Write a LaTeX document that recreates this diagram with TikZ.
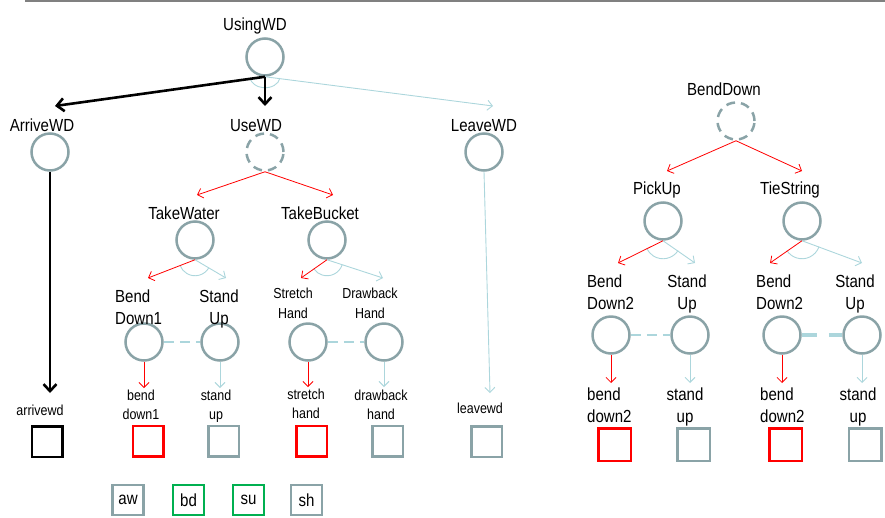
\documentclass[tikz,border=0pt]{standalone}
\usepackage{fontspec}
\setmainfont{Liberation Sans}[FakeStretch=0.86]
\usetikzlibrary{arrows.meta}
\definecolor{ngray}{RGB}{138,163,167}
\definecolor{lblue}{RGB}{172,214,220}
\definecolor{tgray}{RGB}{128,128,128}
\definecolor{lgreen}{RGB}{0,176,80}
\newcommand{\linesL}[2]{\begin{tabular}[t]{@{}l@{}}#1\\#2\end{tabular}}
\newcommand{\linesC}[2]{\begin{tabular}[t]{@{}c@{}}#1\\#2\end{tabular}}
\begin{document}
\begin{tikzpicture}[x=1pt,y=-1pt,
  st/.style={circle, draw=ngray, line width=2.5pt, minimum size=37pt, inner sep=0pt},
  dst/.style={st, dash pattern=on 9pt off 6pt},
  obs/.style={rectangle, draw=ngray, line width=2.5pt, minimum size=30.5pt, inner sep=0pt},
  robs/.style={obs, draw=red},
  big/.style={font=\fontsize{17.5}{22}\selectfont, inner sep=0pt, anchor=base},
  mid/.style={font=\fontsize{14.5}{19.5}\selectfont, inner sep=0pt, anchor=base},
  redarr/.style={draw=red, line width=0.8pt, -{Straight Barb[length=5pt,width=10pt]}},
  bluearr/.style={draw=lblue, line width=0.9pt, -{Straight Barb[length=5pt,width=10pt]}},
  blackarr/.style={draw=black, line width=2.6pt, -{Straight Barb[length=7pt,width=13pt]}},
  andarc/.style={draw=lblue, line width=0.9pt},
  thinlink/.style={draw=lblue, line width=1.6pt, dash pattern=on 10pt off 6pt},
  thicklink/.style={draw=lblue, line width=4pt, dash pattern=on 15pt off 12pt},
  leg/.style={rectangle, draw=ngray, line width=2.5pt, minimum width=31pt, minimum height=30pt, inner sep=0pt, font=\fontsize{17.5}{22}\selectfont}
]
\useasboundingbox (0,0) rectangle (885,517);
\draw[tgray, line width=1.6pt] (25,1) -- (885,1);

% ---------- left tree ----------
\node[st] (usingwd) at (265,57) {};
\node[big] (usingwdL) at (255,30) {UsingWD};
\node[st] (arrivewd) at (50,152) {};
\node[big] (arrivewdL) at (42,131) {ArriveWD};
\node[dst] (usewd) at (265,152) {};
\node[big] (usewdL) at (256,131) {UseWD};
\node[st] (leavewd) at (484,152) {};
\node[big] (leavewdL) at (484,131) {LeaveWD};

\node[st] (takewater) at (195,240) {};
\node[big] (takewaterL) at (184,219) {TakeWater};
\node[st] (takebucket) at (327,240) {};
\node[big] (takebucketL) at (320,219) {TakeBucket};

\node[st] (bd1) at (144,342) {};
\node[big, anchor=base west] (bd1L) at (115,302) {\linesL{Bend}{Down1}};
\node[st] (su1) at (220,342) {};
\node[big] (su1L) at (219,302) {\linesC{Stand}{Up}};
\node[st] (sh1) at (308,342) {};
\node[mid] (sh1L) at (293,298.5) {\linesC{Stretch}{Hand}};
\node[st] (dh1) at (384,342) {};
\node[mid] (dh1L) at (370,298.5) {\linesC{Drawback}{Hand}};

\node[mid] (bd1o) at (141,400) {\linesC{bend}{down1}};
\node[mid] (su1o) at (216,400) {\linesC{stand}{up}};
\node[mid] (sh1o) at (306,399) {\linesC{stretch}{hand}};
\node[mid] (dh1o) at (381,400) {\linesC{drawback}{hand}};
\node[mid] (awo) at (40,415) {arrivewd};
\node[mid] (lwo) at (480,413) {leavewd};

\node[obs, draw=black] (bx_aw) at (47,441.5) {};
\node[robs] (bx_bd1) at (148,441) {};
\node[obs] (bx_su1) at (223.5,441) {};
\node[robs] (bx_sh1) at (311.5,441) {};
\node[obs] (bx_dh1) at (387.5,441) {};
\node[obs] (bx_lw) at (486.5,441.5) {};

\node[leg] (lg_aw) at (128,500) {aw};
\node[leg, draw=lgreen] (lg_bd) at (188.5,500) {bd};
\node[leg, draw=lgreen] (lg_su) at (248.5,500) {su};
\node[leg] (lg_sh) at (306.5,500) {sh};

% connector end points
\coordinate (tArr) at (55,106);
\coordinate (tUse) at (265,106);
\coordinate (tLeave) at (493,106);
\coordinate (tTW) at (197,195);
\coordinate (tTB) at (333,195);
\coordinate (tBD1) at (148,278);
\coordinate (tSU1) at (226,278);
\coordinate (tSH1) at (301,278);
\coordinate (tDH1) at (383,278);
\coordinate (tArrO) at (50,393);
\coordinate (tLwO) at (490,393);
\coordinate (tbd1o) at (144,388);
\coordinate (tsu1o) at (220,388);
\coordinate (tsh1o) at (308,387);
\coordinate (tdh1o) at (384,387);

\draw[andarc] (usingwd.south) ++(7:15 and 11) arc[start angle=7, end angle=172, x radius=15, y radius=11];
\draw[bluearr] (usingwd.south) -- (tLeave);
\draw[blackarr] (usingwd.south) -- (tArr);
\draw[blackarr] (usingwd.south) -- (tUse);
\draw[blackarr] (arrivewd.south) -- (tArrO);
\draw[bluearr] (leavewd.south) -- (tLwO);

\draw[redarr] (usewd.south) -- (tTW);
\draw[redarr] (usewd.south) -- (tTB);

\draw[andarc] (takewater.south) ++(30:16) arc[start angle=30, end angle=159, radius=16];
\draw[redarr] (takewater.south) -- (tBD1);
\draw[bluearr] (takewater.south) -- (tSU1);
\draw[andarc] (takebucket.south) ++(18:16) arc[start angle=18, end angle=145, radius=16];
\draw[redarr] (takebucket.south) -- (tSH1);
\draw[bluearr] (takebucket.south) -- (tDH1);

\draw[thinlink] (bd1.east) -- (su1.west);
\draw[thinlink] (sh1.east) -- (dh1.west);

\draw[redarr] (bd1.south) -- (tbd1o);
\draw[bluearr] (su1.south) -- (tsu1o);
\draw[redarr] (sh1.south) -- (tsh1o);
\draw[bluearr] (dh1.south) -- (tdh1o);

% ---------- right tree ----------
\node[dst] (benddown) at (736,121) {};
\node[big] (benddownL) at (724,95) {BendDown};
\node[st] (pickup) at (663,221) {};
\node[big] (pickupL) at (657,194) {PickUp};
\node[st] (tiestring) at (802,221) {};
\node[big] (tiestringL) at (790,194) {TieString};

\node[st] (bd2) at (611,335) {};
\node[big, anchor=base west] (bd2L) at (587,287.5) {\linesL{Bend}{Down2}};
\node[st] (su2) at (690,335) {};
\node[big] (su2L) at (687,287.5) {\linesC{Stand}{Up}};
\node[st] (bd3) at (782,335) {};
\node[big, anchor=base west] (bd3L) at (756,287.5) {\linesL{Bend}{Down2}};
\node[st] (su3) at (862,335) {};
\node[big] (su3L) at (855,287.5) {\linesC{Stand}{Up}};

\node[big, anchor=base west] (bd2o) at (587,400) {\linesL{bend}{down2}};
\node[big] (su2o) at (685,400) {\linesC{stand}{up}};
\node[big, anchor=base west] (bd3o) at (760,400) {\linesL{bend}{down2}};
\node[big] (su3o) at (858,400) {\linesC{stand}{up}};

\node[robs, minimum size=32.5pt] (bx_bd2) at (614.5,444.5) {};
\node[obs, minimum size=32.5pt] (bx_su2) at (693.5,444.5) {};
\node[robs, minimum size=32.5pt] (bx_bd3) at (785.5,444.5) {};
\node[obs, minimum size=32.5pt] (bx_su3) at (865,444.5) {};

\coordinate (tPU) at (667,171);
\coordinate (tTS) at (802,171);
\coordinate (tBD2) at (618,263);
\coordinate (tSU2) at (695,263);
\coordinate (tBD3) at (770,263);
\coordinate (tSU3) at (862,263);
\coordinate (tbd2o) at (611,383);
\coordinate (tsu2o) at (690,383);
\coordinate (tbd3o) at (782,383);
\coordinate (tsu3o) at (862,383);

\draw[redarr] (benddown.south) -- (tPU);
\draw[redarr] (benddown.south) -- (tTS);

\draw[andarc] (pickup.south) ++(33:18) arc[start angle=33, end angle=155, radius=18];
\draw[redarr] (pickup.south) -- (tBD2);
\draw[bluearr] (pickup.south) -- (tSU2);
\draw[andarc] (tiestring.south) ++(19:18) arc[start angle=19, end angle=147, radius=18];
\draw[redarr] (tiestring.south) -- (tBD3);
\draw[bluearr] (tiestring.south) -- (tSU3);

\draw[thinlink] (bd2.east) -- (su2.west);
\draw[thicklink] (bd3.east) -- (su3.west);

\draw[redarr] (bd2.south) -- (tbd2o);
\draw[bluearr] (su2.south) -- (tsu2o);
\draw[redarr] (bd3.south) -- (tbd3o);
\draw[bluearr] (su3.south) -- (tsu3o);
\end{tikzpicture}
\end{document}
